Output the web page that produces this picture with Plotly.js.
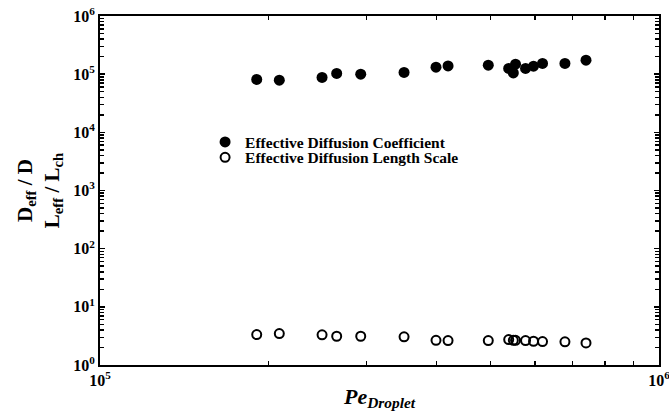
<!DOCTYPE html>
<html>
<head>
<meta charset="utf-8">
<script src="https://cdn.plot.ly/plotly-3.0.1.min.js"></script>
<style>html,body{margin:0;padding:0;background:#fff;}#chart{width:669px;height:419px;}</style>
</head>
<body>
<div id="chart"></div>
<script>
// Droplet Peclet number
const peDroplet = [1.907e5, 2.093e5, 2.496e5, 2.651e5, 2.927e5, 3.499e5, 3.991e5, 4.194e5, 4.950e5,
                   5.384e5, 5.488e5, 5.538e5, 5.771e5, 5.964e5, 6.189e5, 6.788e5, 7.403e5];
// Effective diffusion coefficient D_eff / D
const effDiffCoeff = [8.11e4, 7.89e4, 8.78e4, 1.028e5, 1.0e5, 1.07e5, 1.318e5, 1.388e5, 1.43e5,
                      1.253e5, 1.052e5, 1.486e5, 1.253e5, 1.373e5, 1.527e5, 1.527e5, 1.738e5];
// Effective diffusion length scale L_eff / L_ch
const effLengthScale = [3.33, 3.47, 3.30, 3.12, 3.12, 3.05, 2.66, 2.63, 2.63,
                        2.74, 2.66, 2.66, 2.63, 2.56, 2.53, 2.50, 2.40];
const xTickVals = [1e5, 1e6];
const xTickText = ['10<sup>5</sup>', '10<sup>6</sup>'];
const yTickVals = [1e0, 1e1, 1e2, 1e3, 1e4, 1e5, 1e6];
const yTickText = ['10<sup>0</sup>', '10<sup>1</sup>', '10<sup>2</sup>', '10<sup>3</sup>', '10<sup>4</sup>', '10<sup>5</sup>', '10<sup>6</sup>'];

function minorTicks(lo, hi) {
  const out = [];
  for (let e = lo; e < hi; e++) {
    for (let k = 2; k <= 9; k++) out.push(k * Math.pow(10, e));
  }
  return out;
}

const serif = 'Liberation Serif, Times New Roman, serif';
const legendFont = {family: serif, size: 15.5, color: '#000', weight: 'bold'};

const traces = [
  {
    x: peDroplet, y: effDiffCoeff, type: 'scatter', mode: 'markers',
    name: 'Effective Diffusion Coefficient', legend: 'legend',
    marker: {symbol: 'circle', size: 11, color: '#000'}
  },
  {
    x: peDroplet, y: effLengthScale, type: 'scatter', mode: 'markers',
    name: 'Effective Diffusion Length Scale', legend: 'legend2',
    marker: {symbol: 'circle-open', size: 9, color: '#000', line: {width: 2, color: '#000'}}
  }
];

const axisCommon = {
  type: 'log', showgrid: false, zeroline: false,
  showline: true, linecolor: '#000', linewidth: 2, mirror: 'allticks',
  ticks: 'inside', ticklen: 5, tickwidth: 1.5, tickcolor: '#000',
  tickmode: 'array', ticklabeloverflow: 'allow',
  tickfont: {family: serif, size: 16, color: '#000', weight: 'bold'}
};

const layout = {
  width: 669, height: 419,
  margin: {l: 100, r: 10, t: 16, b: 54},
  paper_bgcolor: '#fff', plot_bgcolor: '#fff',
  showlegend: true,
  legend: {
    x: 0.188, y: 0.638, xanchor: 'left', yanchor: 'middle',
    bgcolor: 'rgba(0,0,0,0)', borderwidth: 0, font: legendFont
  },
  legend2: {
    x: 0.188, y: 0.594, xanchor: 'left', yanchor: 'middle',
    bgcolor: 'rgba(0,0,0,0)', borderwidth: 0, font: legendFont
  },
  xaxis: Object.assign({}, axisCommon, {
    range: [5, 6],
    tickvals: xTickVals, ticktext: xTickText,
    minor: {tickmode: 'array', tickvals: minorTicks(5, 6), ticks: 'inside', ticklen: 4, tickwidth: 1.5, tickcolor: '#000'},
    title: {text: '<i>Pe</i><sub><i>Droplet</i></sub>', font: {family: serif, size: 22, color: '#000', weight: 'bold'}, standoff: 0}
  }),
  yaxis: Object.assign({}, axisCommon, {
    range: [0, 6],
    tickvals: yTickVals, ticktext: yTickText,
    minor: {tickmode: 'array', tickvals: minorTicks(0, 6), ticks: 'inside', ticklen: 4, tickwidth: 1.5, tickcolor: '#000'},
    title: {text: 'D<sub>eff</sub> / D<br>L<sub>eff</sub> / L<sub>ch</sub>', font: {family: serif, size: 21, color: '#000', weight: 'bold'}, standoff: 8}
  })
};

Plotly.newPlot('chart', traces, layout, {displayModeBar: false, staticPlot: true});
</script>
</body>
</html>
